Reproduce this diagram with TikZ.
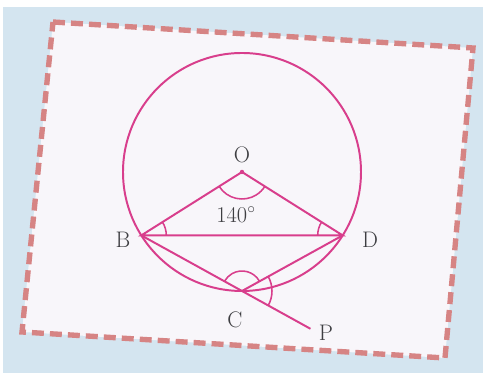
\documentclass[tikz,border=0pt]{standalone}
\usepackage{tikz}
\usetikzlibrary{calc}
\definecolor{geoline}{RGB}{216, 62, 140}
\definecolor{frameDash}{RGB}{214, 132, 132}
\definecolor{bgBlue}{RGB}{212, 229, 240}
\definecolor{cardWhite}{RGB}{248, 246, 250}
\definecolor{labelGray}{RGB}{62, 62, 66}

\begin{document}
\begin{tikzpicture}[x=0.025cm, y=0.025cm,
    geo/.style={geoline, line width=1.4pt},
    anglemark/.style={geoline, line width=1.1pt},
    lbl/.style={labelGray, font=\fontsize{16}{19}\selectfont}]
  % page background
  \fill[white] (0,0) rectangle (483,373);
  \fill[bgBlue] (3,0) rectangle (483,366);
  \useasboundingbox (0,0) rectangle (483,373);

  % tilted dashed card
  \filldraw[fill=cardWhite, draw=frameDash, line width=3.8pt,
            dash pattern=on 8.5pt off 4.3pt]
    (53,351) -- (473,325) -- (445,15) -- (22,41) -- cycle;

  % circle and points on it
  \coordinate (O) at (242,201);
  \coordinate (B) at ($(O)+(212.2:119)$);
  \coordinate (D) at ($(O)+(327.8:119)$);
  \coordinate (C) at ($(O)+(270:119)$);
  \coordinate (P) at ($(B)!1.68!(C)$);
  \draw[geo] (O) circle (119);
  \fill[geoline] (O) circle (2.2);

  % triangle OBD and the lines through C
  \draw[geo] (B) -- (O) -- (D) -- cycle;
  \draw[geo] (D) -- (C);
  \draw[geo] (B) -- (P);

  % angle marks
  \draw[anglemark] ($(O)+(212.2:27)$) arc[start angle=212.2, end angle=327.8, radius=27];
  \draw[anglemark] ($(B)+(0:25)$) arc[start angle=0, end angle=32.2, radius=25];
  \draw[anglemark] ($(D)+(147.8:25)$) arc[start angle=147.8, end angle=180, radius=25];
  \draw[anglemark] ($(C)+(29.7:20)$) arc[start angle=29.7, end angle=150.3, radius=20];
  \draw[anglemark] ($(C)+(-29.7:30)$) arc[start angle=-29.7, end angle=29.7, radius=30];

  % labels
  \node[lbl] (labO) at (242,218) {O};
  \node[lbl] (labB) at (123,133) {B};
  \node[lbl] (labD) at (370,133) {D};
  \node[lbl] (labC) at (235,53) {C};
  \node[lbl] (labP) at (326,40) {P};
  \node[lbl] (labAng) at (236,158) {140$^{\circ}$};
\end{tikzpicture}
\end{document}
